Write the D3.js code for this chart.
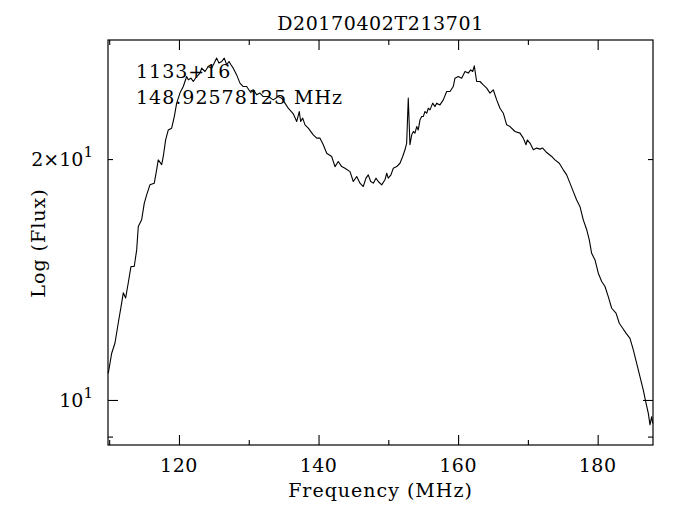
<!DOCTYPE html>
<html>
<head>
<meta charset="utf-8">
<script src="https://cdn.jsdelivr.net/npm/d3@7/dist/d3.min.js"></script>
<style>
  body { margin: 0; background: #fff; }
  text { font-family: 'DejaVu Serif', serif; fill: #000; }
</style>
</head>
<body>
<div id="chart"></div>
<script>
const TITLE = 'D20170402T213701';
const SOURCE = '1133+16';
const SUBBAND = '148.92578125 MHz';
const X_LABEL = 'Frequency (MHz)';
const Y_LABEL = 'Log (Flux)';

// spectrum (MHz, flux)
const FREQ = [
  109.87, 110.36, 110.83, 111.30, 111.79, 112.02, 112.36, 112.73, 113.12, 113.59,
  113.94, 114.17, 114.65, 115.03, 115.37, 115.84, 116.46, 116.80, 117.03, 117.52,
  117.75, 118.09, 118.47, 118.95, 119.33, 119.67, 120.14, 120.62, 121.10, 121.33,
  121.72, 122.05, 122.54, 123.01, 123.25, 123.73, 124.20, 124.69, 125.16, 125.40,
  125.73, 126.12, 126.49, 126.84, 127.17, 127.45, 127.78, 128.27, 128.74, 129.21,
  129.70, 130.18, 130.65, 131.14, 131.61, 132.08, 132.80, 133.51, 134.23, 134.72,
  135.19, 135.66, 136.38, 136.87, 137.24, 137.44, 137.73, 138.06, 138.53, 139.25,
  139.73, 140.21, 140.68, 141.17, 141.88, 142.36, 142.83, 143.32, 143.79, 144.51,
  144.98, 145.47, 145.94, 146.41, 146.80, 147.13, 147.47, 147.85, 148.23, 148.56,
  149.05, 149.52, 149.77, 149.99, 150.38, 150.71, 151.20, 151.67, 152.06, 152.39,
  152.63, 152.86, 153.10, 153.35, 153.58, 153.82, 154.07, 154.29, 154.54, 154.78,
  155.01, 155.25, 155.50, 155.73, 155.97, 156.36, 156.69, 156.93, 157.40, 157.88,
  158.36, 158.84, 159.31, 159.55, 160.03, 160.51, 160.99, 161.46, 161.80, 162.09,
  162.32, 162.66, 163.14, 163.61, 164.10, 164.57, 165.04, 165.53, 166.00, 166.48,
  166.96, 167.44, 168.15, 168.87, 169.34, 169.73, 169.92, 170.30, 170.78, 171.26,
  171.74, 172.12, 172.70, 173.41, 173.88, 174.50, 175.07, 175.56, 176.03, 176.51,
  176.99, 177.47, 177.94, 178.43, 178.80, 179.14, 179.62, 180.09, 180.58, 181.05,
  181.52, 182.01, 182.63, 183.10, 183.59, 184.06, 184.63, 185.11, 185.59, 186.07,
  186.54, 186.93, 187.26, 187.50, 187.74, 187.89
];
const FLUX = [
  10.80, 11.44, 11.78, 12.48, 13.22, 13.61, 13.41, 14.00, 14.68, 14.68,
  15.40, 16.47, 16.79, 17.62, 18.04, 18.57, 18.66, 19.39, 19.95, 19.68,
  20.15, 21.13, 21.75, 21.86, 22.60, 23.49, 24.18, 24.64, 25.36, 25.12,
  25.24, 25.00, 25.36, 25.61, 25.98, 25.73, 26.10, 25.98, 26.48, 26.74,
  26.36, 26.48, 26.74, 26.23, 26.48, 26.23, 25.98, 25.48, 24.88, 24.64,
  24.64, 24.29, 24.41, 24.06, 24.18, 23.94, 23.94, 23.71, 23.94, 23.83,
  23.49, 23.15, 22.78, 22.28, 22.93, 22.28, 22.50, 22.07, 21.86, 21.44,
  21.24, 21.24, 20.84, 20.34, 20.15, 19.57, 19.86, 19.57, 19.48, 19.29,
  18.75, 19.02, 18.66, 18.48, 18.93, 19.11, 18.75, 18.66, 18.93, 18.75,
  18.57, 18.84, 19.20, 18.93, 19.11, 19.48, 19.57, 19.76, 20.15, 20.54,
  20.94, 23.83, 20.84, 21.44, 21.65, 21.55, 21.96, 21.75, 22.39, 22.60,
  22.60, 22.93, 22.82, 23.15, 23.04, 23.49, 23.26, 23.49, 23.37, 23.71,
  24.29, 24.29, 24.64, 25.24, 25.36, 25.24, 25.73, 25.61, 25.85, 25.73,
  26.15, 25.00, 25.00, 24.76, 24.53, 24.18, 24.41, 23.71, 23.15, 22.82,
  22.07, 21.96, 21.65, 21.55, 21.24, 20.84, 21.13, 20.94, 20.54, 20.64,
  20.58, 20.64, 20.38, 20.15, 19.95, 19.76, 19.39, 19.11, 18.66, 18.21,
  17.78, 17.44, 16.79, 16.32, 15.85, 15.25, 14.96, 14.40, 14.06, 13.86,
  13.46, 13.02, 12.84, 12.47, 12.29, 12.12, 11.94, 11.55, 11.11, 10.69,
  10.29, 9.91, 9.62, 9.31, 9.53, 9.35
];

const X_DOMAIN = [109.83, 187.93];
const Y_DOMAIN = [8.785, 28.17];
const X_MAJOR = [120, 140, 160, 180];
const X_MINOR = [110, 130, 150, 170];
const X_TICK_LABELS = ['120', '140', '160', '180'];
const Y_MAJOR = [10];
const Y_MINOR = [9, 20];
const Y_LABEL_VALUES = [20, 10];
const Y_TICK_LABELS = [['2×10', '1'], ['10', '1']];

const W = 676, H = 505;
const MARGIN = {TOP: 40, BOTTOM: 60, LEFT: 108, RIGHT: 23};
const WIDTH = W - MARGIN.LEFT - MARGIN.RIGHT;
const HEIGHT = H - MARGIN.TOP - MARGIN.BOTTOM;
const FS = 19;

const svg = d3.select('#chart')
  .append('svg')
    .attr('width', W)
    .attr('height', H);

const g = svg.append('g')
  .attr('transform', `translate(${MARGIN.LEFT}, ${MARGIN.TOP})`);

const x = d3.scaleLinear().domain(X_DOMAIN).range([0, WIDTH]);
const y = d3.scaleLog().domain(Y_DOMAIN).range([HEIGHT, 0]);

// ticks point inward on all four sides
function ticks(axis, values, size, transform) {
  g.append('g')
    .attr('transform', transform)
    .call(axis.tickValues(values).tickSize(size).tickSizeOuter(0).tickFormat(''))
    .call(s => s.select('.domain').remove())
    .selectAll('line')
      .attr('stroke', '#000')
      .attr('stroke-width', 1.1);
}

ticks(d3.axisBottom(x), X_MAJOR, -10, `translate(0, ${HEIGHT})`);
ticks(d3.axisBottom(x), X_MINOR.filter(v => v > X_DOMAIN[0]), -5, `translate(0, ${HEIGHT})`);
ticks(d3.axisTop(x), X_MAJOR, -10, 'translate(0, 0)');
ticks(d3.axisTop(x), X_MINOR.filter(v => v > X_DOMAIN[0]), -5, 'translate(0, 0)');
ticks(d3.axisLeft(y), Y_MAJOR, -10, 'translate(0, 0)');
ticks(d3.axisLeft(y), Y_MINOR, -5, 'translate(0, 0)');
ticks(d3.axisRight(y), Y_MAJOR, -10, `translate(${WIDTH}, 0)`);
ticks(d3.axisRight(y), Y_MINOR, -5, `translate(${WIDTH}, 0)`);

// frame
g.append('rect')
  .attr('width', WIDTH)
  .attr('height', HEIGHT)
  .attr('fill', 'none')
  .attr('stroke', '#000')
  .attr('stroke-width', 1.2);

// spectrum
const data = d3.zip(FREQ, FLUX);
const line = d3.line()
  .x(d => x(d[0]))
  .y(d => y(d[1]));

g.append('path')
  .datum(data)
  .attr('d', line)
  .attr('fill', 'none')
  .attr('stroke', '#000')
  .attr('stroke-width', 1.1)
  .attr('stroke-linejoin', 'round');

// x tick labels
g.selectAll('.xlab')
  .data(X_MAJOR)
  .enter().append('text')
    .attr('class', 'xlab')
    .attr('x', d => x(d))
    .attr('y', HEIGHT + 27)
    .attr('text-anchor', 'middle')
    .attr('font-size', FS)
    .attr('letter-spacing', 0.5)
    .text((d, i) => X_TICK_LABELS[i]);

// y tick labels with exponent
const ylab = g.selectAll('.ylab')
  .data(Y_LABEL_VALUES)
  .enter().append('text')
    .attr('class', 'ylab')
    .attr('x', -15)
    .attr('y', d => y(d) + 7)
    .attr('text-anchor', 'end')
    .attr('font-size', FS);
ylab.append('tspan').text((d, i) => Y_TICK_LABELS[i][0]);
ylab.append('tspan')
  .attr('dy', -9)
  .attr('font-size', 15)
  .text((d, i) => Y_TICK_LABELS[i][1]);

// title and axis labels
svg.append('text')
  .attr('x', MARGIN.LEFT + WIDTH / 2)
  .attr('y', 30)
  .attr('text-anchor', 'middle')
  .attr('font-size', FS)
  .attr('letter-spacing', 0.6)
  .text(TITLE);

svg.append('text')
  .attr('x', MARGIN.LEFT + WIDTH / 2)
  .attr('y', 497)
  .attr('text-anchor', 'middle')
  .attr('font-size', FS)
  .attr('letter-spacing', 1)
  .text(X_LABEL);

svg.append('text')
  .attr('transform', `translate(45, 243) rotate(-90)`)
  .attr('text-anchor', 'middle')
  .attr('font-size', FS)
  .attr('letter-spacing', 1)
  .text(Y_LABEL);

// annotation
g.append('text')
  .attr('x', 28)
  .attr('y', 38)
  .attr('font-size', FS)
  .attr('letter-spacing', 1)
  .text(SOURCE);

g.append('text')
  .attr('x', 28)
  .attr('y', 64)
  .attr('font-size', FS)
  .attr('letter-spacing', 1)
  .text(SUBBAND);
</script>
</body>
</html>
